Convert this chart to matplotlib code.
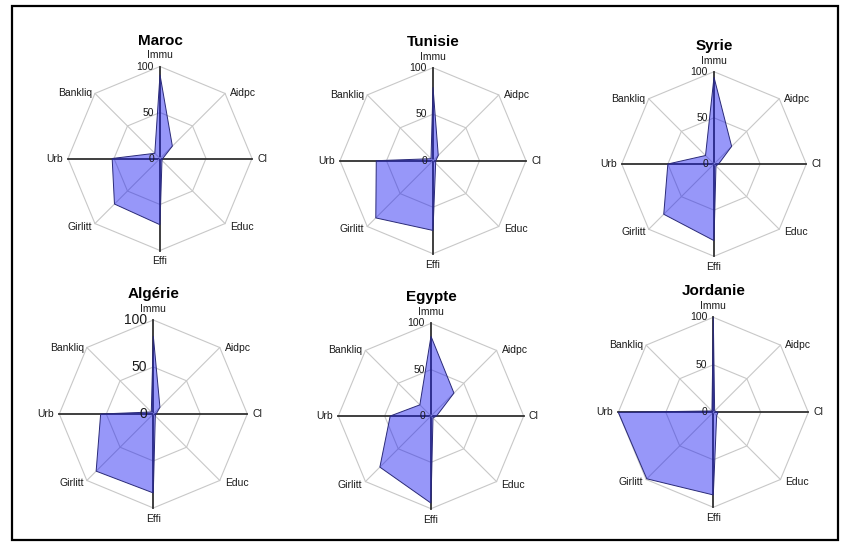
import matplotlib
matplotlib.use("Agg")
import matplotlib.pyplot as plt
import numpy as np
from matplotlib.patches import Rectangle

plt.rcParams['font.family'] = ['Liberation Sans', 'DejaVu Sans']

# axes, counter-clockwise from the top
variables = ["Immu", "Bankliq", "Urb", "Girlitt", "Effi", "Educ", "Cl", "Aidpc"]
countries = ["Maroc", "Tunisie", "Syrie", "Algérie", "Egypte", "Jordanie"]

maroc = [91, 8, 52, 70, 72, 3, 3, 19]
tunisie = [79, 3, 61, 87, 75, 4, 3, 8]
syrie = [94, 13, 50, 77, 83, 3, 5, 27]
algerie = [83, 3, 56, 86, 84, 3, 3, 10]
egypte = [86, 17, 44, 78, 94, 3, 6, 35]
jordanie = [100, 2, 100, 99, 87, 5, 5, 2]
values = [maroc, tunisie, syrie, algerie, egypte, jordanie]

grid_levels = [50, 100]
tick_labels = ["0", "50", "100"]

W, H = 846, 543
fig = plt.figure(figsize=(W / 100, H / 100), dpi=100)

# panel centre (px) and radius of the 100 ring (px)
panels = [(160, 158.5, 92), (433, 160.7, 93), (714, 164, 92.3),
          (153.3, 414, 94), (431, 416, 92.7), (713.3, 412.3, 95)]

angles = np.deg2rad(90 + 45 * np.arange(len(variables)))
cosa, sina = np.cos(angles), np.sin(angles)

label_offsets = {
    "Immu": (0, 11, "center"), "Bankliq": (-3, 0, "right"),
    "Urb": (-5, 0, "right"), "Girlitt": (-3, -3, "right"),
    "Effi": (0, -11, "center"), "Educ": (5, -3, "left"),
    "Cl": (5, 0, "left"), "Aidpc": (5, 0, "left"),
}

for name, vals, (cx, cy, r) in zip(countries, values, panels):
    half = 1.45 * r
    ax = fig.add_axes([(cx - half) / W, 1 - (cy + half) / H, 2 * half / W, 2 * half / H])
    lim = 100 * half / r
    ax.set_xlim(-lim, lim)
    ax.set_ylim(-lim, lim)
    ax.axis("off")

    for lev in grid_levels:
        ax.plot(np.append(lev * cosa, lev * cosa[0]), np.append(lev * sina, lev * sina[0]),
                color="#c8c8c8", lw=0.8, zorder=1)
    for i in range(len(variables)):
        dark = i % 2 == 0
        ax.plot([0, 100 * cosa[i]], [0, 100 * sina[i]],
                color="#303030" if dark else "#c8c8c8", lw=1.3 if dark else 0.8, zorder=1)

    v = np.array(vals, dtype=float)
    ax.fill(v * cosa, v * sina, facecolor=(0.1, 0.1, 0.95, 0.45),
            edgecolor="#2a2a78", lw=0.7, zorder=2)

    for i, var in enumerate(variables):
        dx, dy, ha = label_offsets[var]
        ax.annotate(var, (100 * cosa[i], 100 * sina[i]), xytext=(dx, dy),
                    textcoords="offset pixels", ha=ha, va="center", fontsize=7.5,
                    color="#1a1a1a")

    tick_fs = 10 if name == "Algérie" else 7.5
    for lab, lev in zip(tick_labels, [0, 50, 100]):
        ax.annotate(lab, (0, lev), xytext=(-6, 0), textcoords="offset pixels",
                    ha="right", va="center", fontsize=tick_fs, color="#1a1a1a")

    ax.text(0, 128, name, ha="center", va="center", fontsize=11, fontweight="bold")

fig.patches.append(Rectangle((12 / W, 1 - 540 / H), 826 / W, 534 / H, transform=fig.transFigure,
                             fill=False, edgecolor="black", lw=1.6))

fig.savefig("out.png", dpi=100)
